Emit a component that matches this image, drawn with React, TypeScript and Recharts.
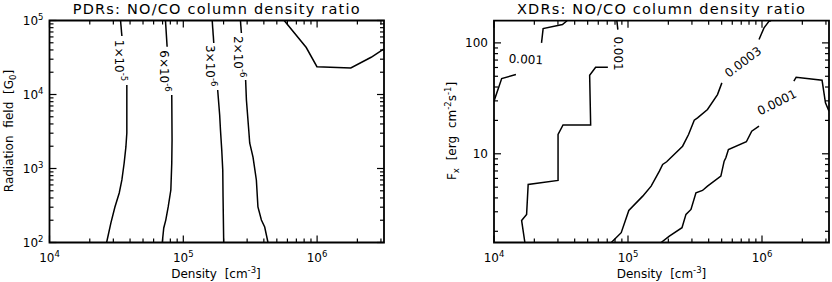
import React from "react";
import { ScatterChart, Scatter, XAxis, YAxis, ReferenceArea } from "recharts";

// ---------- axes ----------
const densityDomain = [1e4, 3162278];
const densityTicks = [
  10000, 20000, 30000, 40000, 50000, 60000, 70000, 80000, 90000,
  100000, 200000, 300000, 400000, 500000, 600000, 700000, 800000, 900000,
  1000000, 2000000, 3000000,
];
const densityMajor = [10000, 100000, 1000000];
const densityMajorExp = ["4", "5", "6"];

const fieldDomain = [100, 100000];
const fieldTicks = [
  100, 200, 300, 400, 500, 600, 700, 800, 900,
  1000, 2000, 3000, 4000, 5000, 6000, 7000, 8000, 9000,
  10000, 20000, 30000, 40000, 50000, 60000, 70000, 80000, 90000,
  100000,
];
const fieldMajor = [100, 1000, 10000, 100000];
const fieldMajorExp = ["2", "3", "4", "5"];

const fluxDomain = [1.585, 158.5];
const fluxTicks = [2, 3, 4, 5, 6, 7, 8, 9, 10, 20, 30, 40, 50, 60, 70, 80, 90, 100];
const fluxMajor = [10, 100];
const fluxMajorText = ["10", "100"];

// ---------- PDR contours (split where the label sits) ----------
const pdr1e5Top = [
  { x: 33960, y: 100000 },
  { x: 34750, y: 61800 },
];
const pdr1e5Bottom = [
  { x: 37840, y: 13430 },
  { x: 37840, y: 3020 },
  { x: 37240, y: 1955 },
  { x: 36140, y: 1186 },
  { x: 34750, y: 700 },
  { x: 33200, y: 467 },
  { x: 30830, y: 302 },
  { x: 28770, y: 184 },
  { x: 26720, y: 100 },
];
const pdr6e6Top = [
  { x: 73600, y: 100000 },
  { x: 75700, y: 44260 },
];
const pdr6e6Bottom = [
  { x: 82000, y: 9840 },
  { x: 82400, y: 2427 },
  { x: 82000, y: 1186 },
  { x: 80700, y: 512 },
  { x: 77100, y: 302 },
  { x: 73960, y: 201 },
  { x: 71430, y: 157 },
  { x: 69630, y: 100 },
];
const pdr3e6Top = [
  { x: 164400, y: 100000 },
  { x: 169000, y: 49650 },
];
const pdr3e6Bottom = [
  { x: 180700, y: 11510 },
  { x: 187000, y: 5285 },
  { x: 189600, y: 3312 },
  { x: 193800, y: 1778 },
  { x: 197200, y: 955 },
  { x: 198200, y: 412 },
  { x: 200400, y: 100 },
];
const pdr2e6Top = [
  { x: 267300, y: 100000 },
  { x: 271700, y: 67760 },
];
const pdr2e6Bottom = [
  { x: 292300, y: 15700 },
  { x: 296300, y: 8440 },
  { x: 308400, y: 3312 },
  { x: 313500, y: 2213 },
  { x: 331900, y: 1429 },
  { x: 351600, y: 700 },
  { x: 361300, y: 302 },
  { x: 383400, y: 201 },
  { x: 405800, y: 162 },
  { x: 429500, y: 100 },
];
const pdrHighDensity = [
  { x: 567500, y: 100000 },
  { x: 829700, y: 43150 },
  { x: 997000, y: 23770 },
  { x: 1786000, y: 22800 },
  { x: 2535000, y: 31850 },
  { x: 3162278, y: 41220 },
];
const pdrLines = [
  pdr1e5Top, pdr1e5Bottom, pdr6e6Top, pdr6e6Bottom,
  pdr3e6Top, pdr3e6Bottom, pdr2e6Top, pdr2e6Bottom, pdrHighDensity,
];
const pdrLabels = [
  { x: 33300, y: 28810, base: "1×10", exp: "-5" },
  { x: 71530, y: 20780, base: "6×10", exp: "-6" },
  { x: 157700, y: 24500, base: "3×10", exp: "-6" },
  { x: 256500, y: 32420, base: "2×10", exp: "-6" },
];
const pdrLabelAngles = [90, 90, 90, 90];

// ---------- XDR contours ----------
const xdrEdgeLow = [
  { x: 10000, y: 29.8 },
  { x: 11410, y: 47.7 },
  { x: 14570, y: 51.8 },
];
const xdrEdgeHigh = [
  { x: 22630, y: 100 },
  { x: 23260, y: 134.5 },
  { x: 32420, y: 146.2 },
  { x: 35080, y: 158.5 },
];
const xdrStairLow = [
  { x: 17000, y: 1.585 },
  { x: 16070, y: 2.506 },
  { x: 17510, y: 2.84 },
  { x: 17990, y: 5.29 },
  { x: 30060, y: 5.75 },
  { x: 30060, y: 14.93 },
  { x: 32750, y: 18.18 },
  { x: 52640, y: 18.18 },
  { x: 51740, y: 51.05 },
  { x: 57330, y: 60.3 },
  { x: 70760, y: 60.3 },
];
const xdrStairHigh = [
  { x: 84000, y: 131.8 },
  { x: 82550, y: 158.5 },
];
const xdr3e4Low = [
  { x: 75030, y: 1.585 },
  { x: 89000, y: 1.943 },
  { x: 101400, y: 3.085 },
  { x: 128800, y: 4.15 },
  { x: 148800, y: 5.11 },
  { x: 171500, y: 6.97 },
  { x: 181400, y: 8.01 },
  { x: 194300, y: 8.47 },
  { x: 255500, y: 11.71 },
  { x: 283100, y: 14.93 },
  { x: 312200, y: 20.08 },
  { x: 330400, y: 21.1 },
  { x: 392000, y: 25.07 },
  { x: 465400, y: 34.2 },
  { x: 501700, y: 43.6 },
];
const xdr3e4High = [
  { x: 950000, y: 107.1 },
  { x: 1035000, y: 136.5 },
  { x: 1127000, y: 156.5 },
  { x: 1167000, y: 158.5 },
];
const xdr1e4Low = [
  { x: 176600, y: 1.585 },
  { x: 203500, y: 1.811 },
  { x: 252900, y: 2.154 },
  { x: 270800, y: 2.84 },
  { x: 295100, y: 3.15 },
  { x: 321500, y: 4.45 },
  { x: 359800, y: 4.67 },
  { x: 392000, y: 5.11 },
  { x: 493200, y: 6.28 },
  { x: 521900, y: 8.58 },
  { x: 537300, y: 9.2 },
  { x: 561600, y: 10.93 },
  { x: 764300, y: 12.83 },
  { x: 838200, y: 15.98 },
  { x: 950000, y: 17.73 },
];
const xdr1e4High = [
  { x: 1729000, y: 45.1 },
  { x: 1799000, y: 49.0 },
  { x: 2807000, y: 46.0 },
  { x: 2976000, y: 28.8 },
  { x: 3162278, y: 24.2 },
];
const xdrLines = [
  xdrEdgeLow, xdrEdgeHigh, xdrStairLow, xdrStairHigh,
  xdr3e4Low, xdr3e4High, xdr1e4Low, xdr1e4High,
];
const xdrLabels = [
  { x: 17290, y: 70.7, base: "0.001", exp: "" },
  { x: 84000, y: 80.1, base: "0.001", exp: "" },
  { x: 722300, y: 67.1, base: "0.0003", exp: "" },
  { x: 1293000, y: 29.0, base: "0.0001", exp: "" },
];
const xdrLabelAngles = [3, 90, -37, -27];

// ---------- styling ----------
const FONT = "'DejaVu Sans', sans-serif";
const MAJOR_LEN = 7;
const MINOR_LEN = 4;
const noDot = () => <g />;

const ContourLabel = ({ cx, cy, label, angle }: any) => (
  <text
    x={cx}
    y={cy}
    transform={`rotate(${angle} ${cx} ${cy})`}
    textAnchor="middle"
    dominantBaseline="central"
    fontFamily={FONT}
    fontSize={12}
    fill="#000"
  >
    {label.base}
    {label.exp && (
      <tspan dy={-4.5} fontSize={8.5}>
        {label.exp}
      </tspan>
    )}
  </text>
);

const DensityTick = ({ x, payload, top, bottom }: any) => {
  const i = densityMajor.indexOf(payload.value);
  const len = i >= 0 ? MAJOR_LEN : MINOR_LEN;
  return (
    <g>
      <line x1={x} x2={x} y1={bottom} y2={bottom - len} stroke="#000" strokeWidth={1.2} />
      <line x1={x} x2={x} y1={top} y2={top + len} stroke="#000" strokeWidth={1.2} />
      {i >= 0 && (
        <text x={x} y={bottom + 19.5} textAnchor="middle" fontFamily={FONT} fontSize={12} fill="#000">
          10
          <tspan dy={-5} fontSize={8.5}>
            {densityMajorExp[i]}
          </tspan>
        </text>
      )}
    </g>
  );
};

const YTick = ({ y, payload, left, right, major, labels, sup }: any) => {
  const i = major.indexOf(payload.value);
  const len = i >= 0 ? MAJOR_LEN : MINOR_LEN;
  return (
    <g>
      <line x1={left} x2={left + len} y1={y} y2={y} stroke="#000" strokeWidth={1.2} />
      <line x1={right} x2={right - len} y1={y} y2={y} stroke="#000" strokeWidth={1.2} />
      {i >= 0 &&
        (sup ? (
          <text x={left - 6} y={y + 4.3} textAnchor="end" fontFamily={FONT} fontSize={12} fill="#000">
            10
            <tspan dy={-5} fontSize={8.5}>
              {labels[i]}
            </tspan>
          </text>
        ) : (
          <text x={left - 6} y={y + 4.3} textAnchor="end" fontFamily={FONT} fontSize={12} fill="#000">
            {labels[i]}
          </text>
        ))}
    </g>
  );
};

const ContourPanel = ({ yDomain, yTicks, yMajor, yLabels, sup, lines, labels, angles, plot, axisWidth }: any) => (
  <ScatterChart
    width={416}
    height={282}
    margin={{ top: plot.top, right: 416 - plot.right, bottom: 9.5, left: 0 }}
  >
    <XAxis
      dataKey="x"
      type="number"
      scale="log"
      domain={densityDomain}
      allowDataOverflow
      ticks={densityTicks}
      interval={0}
      height={30}
      axisLine={false}
      tickLine={false}
      tick={(p: any) => <DensityTick {...p} top={plot.top} bottom={plot.bottom} />}
    />
    <YAxis
      dataKey="y"
      type="number"
      scale="log"
      domain={yDomain}
      allowDataOverflow
      ticks={yTicks}
      interval={0}
      width={axisWidth}
      axisLine={false}
      tickLine={false}
      tick={(p: any) => (
        <YTick {...p} left={plot.left} right={plot.right} major={yMajor} labels={yLabels} sup={sup} />
      )}
    />
    <ReferenceArea
      x1={densityDomain[0]}
      x2={densityDomain[1]}
      y1={yDomain[0]}
      y2={yDomain[1]}
      fill="none"
      fillOpacity={0}
      stroke="#000"
      strokeWidth={1.8}
      ifOverflow="visible"
    />
    {lines.map((d: any, i: number) => (
      <Scatter
        key={`l${i}`}
        data={d}
        fill="#000"
        line={{ stroke: "#000", strokeWidth: 1.5 }}
        shape={noDot}
        isAnimationActive={false}
      />
    ))}
    {labels.map((l: any, i: number) => (
      <Scatter
        key={`t${i}`}
        data={[l]}
        fill="#000"
        shape={(p: any) => <ContourLabel cx={p.cx} cy={p.cy} label={l} angle={angles[i]} />}
        isAnimationActive={false}
      />
    ))}
  </ScatterChart>
);

export default function App() {
  const textProps = { fontFamily: FONT, fill: "#000" };
  return (
    <div style={{ position: "absolute", left: 0, top: 0, width: 832, height: 282, background: "#fff" }}>
      <div style={{ position: "absolute", left: 0, top: 0 }}>
        <ContourPanel
          yDomain={fieldDomain}
          yTicks={fieldTicks}
          yMajor={fieldMajor}
          yLabels={fieldMajorExp}
          sup
          lines={pdrLines}
          labels={pdrLabels}
          angles={pdrLabelAngles}
          plot={{ left: 49.5, right: 384, top: 20.5, bottom: 242.5 }}
          axisWidth={49.5}
        />
      </div>
      <div style={{ position: "absolute", left: 416, top: 0 }}>
        <ContourPanel
          yDomain={fluxDomain}
          yTicks={fluxTicks}
          yMajor={fluxMajor}
          yLabels={fluxMajorText}
          sup={false}
          lines={xdrLines}
          labels={xdrLabels}
          angles={xdrLabelAngles}
          plot={{ left: 78, right: 413, top: 20.7, bottom: 242.5 }}
          axisWidth={78}
        />
      </div>
      <svg
        width={832}
        height={282}
        style={{ position: "absolute", left: 0, top: 0, pointerEvents: "none" }}
      >
        <text x={216.75} y={13.5} textAnchor="middle" fontSize={14.5} letterSpacing={1.2} {...textProps}>
          PDRs: NO/CO column density ratio
        </text>
        <text x={661.5} y={13.5} textAnchor="middle" fontSize={14.5} letterSpacing={1.2} {...textProps}>
          XDRs: NO/CO column density ratio
        </text>
        <text x={216} y={278} textAnchor="middle" fontSize={12} wordSpacing={4} {...textProps}>
          Density [cm
          <tspan dy={-5} fontSize={8.5}>-3</tspan>
          <tspan dy={5}>]</tspan>
        </text>
        <text x={661.5} y={278} textAnchor="middle" fontSize={12} wordSpacing={4} {...textProps}>
          Density [cm
          <tspan dy={-5} fontSize={8.5}>-3</tspan>
          <tspan dy={5}>]</tspan>
        </text>
        <text
          x={13}
          y={131}
          transform="rotate(-90 13 131)"
          textAnchor="middle"
          fontSize={12}
          wordSpacing={4}
          {...textProps}
        >
          Radiation field [G
          <tspan dy={3} fontSize={8.5}>0</tspan>
          <tspan dy={-3}>]</tspan>
        </text>
        <text
          x={456}
          y={131}
          transform="rotate(-90 456 131)"
          textAnchor="middle"
          fontSize={12}
          wordSpacing={4}
          {...textProps}
        >
          F
          <tspan dy={3} fontSize={8.5}>x</tspan>
          <tspan dy={-3}> [erg cm</tspan>
          <tspan dy={-5} fontSize={8.5}>-2</tspan>
          <tspan dy={5}>s</tspan>
          <tspan dy={-5} fontSize={8.5}>-1</tspan>
          <tspan dy={5}>]</tspan>
        </text>
      </svg>
    </div>
  );
}
